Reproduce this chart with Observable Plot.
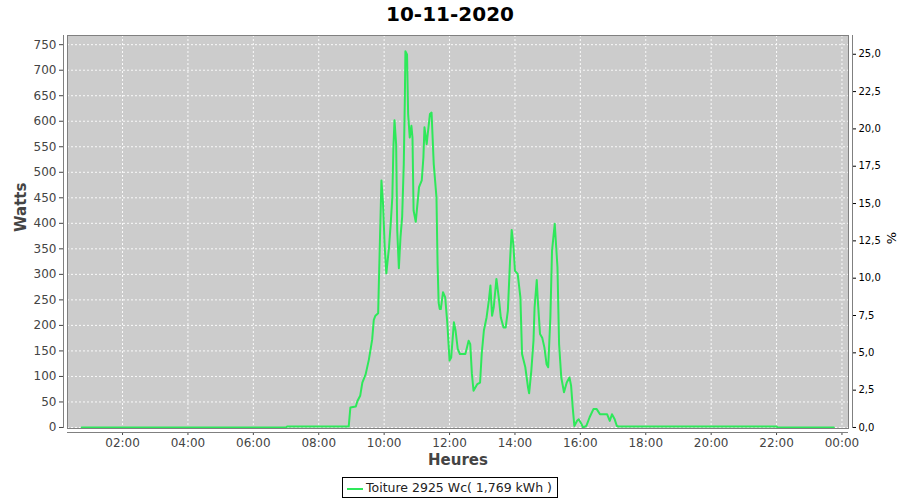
<!DOCTYPE html>
<html><head><meta charset="utf-8">
<script src="https://cdn.jsdelivr.net/npm/d3@7"></script>
<script src="https://cdn.jsdelivr.net/npm/@observablehq/plot@0.6"></script>
<style>
body{margin:0;background:#fff;font-family:"DejaVu Sans",sans-serif;}
#title{height:28px;line-height:28px;text-align:center;font-weight:bold;font-size:20px;color:#000;}
#legend{text-align:center;margin-top:7px;height:22px;}
#legend .box{display:inline-block;border:1px solid #000;height:19px;line-height:19px;padding:0 5px 0 3px;font-size:12.5px;color:#222;}
#legend svg{vertical-align:middle;margin-right:2px;}
</style></head><body>
<div id="title"></div>
<div id="chart"></div>
<div id="legend"></div>
<script>
const chartTitle = "10-11-2020";
const seriesName = "Toiture 2925 Wc( 1,769 kWh )";
const peakPower = 2925;
const lineColor = "#2ee85a";

const times = ["00:45","07:00","07:02","08:55","08:58","09:08","09:11","09:16","09:20","09:26","09:32","09:38","09:41","09:44","09:49","09:50","09:55","09:58","10:01","10:04","10:09","10:12","10:15","10:17","10:19","10:22","10:24","10:27","10:30","10:33","10:36","10:38","10:39","10:42","10:44","10:47","10:50","10:52","10:54","10:58","11:04","11:09","11:12","11:14","11:18","11:20","11:24","11:27","11:31","11:36","11:38","11:40","11:42","11:44","11:48","11:52","11:56","12:00","12:03","12:08","12:11","12:15","12:19","12:29","12:35","12:38","12:41","12:44","12:51","12:56","12:59","13:03","13:08","13:12","13:15","13:18","13:21","13:26","13:31","13:34","13:39","13:43","13:47","13:51","13:54","13:57","14:00","14:05","14:10","14:13","14:19","14:24","14:26","14:30","14:34","14:36","14:40","14:42","14:46","14:50","14:54","14:58","15:01","15:05","15:08","15:13","15:18","15:21","15:25","15:30","15:35","15:40","15:43","15:46","15:49","15:54","15:57","16:02","16:05","16:11","16:17","16:24","16:30","16:36","16:49","16:54","16:58","17:03","17:07","17:10","22:00","22:02","23:45"];
const watts = [0,0,2,2,39,41,52,62,88,104,133,172,211,219,224,270,484,438,354,302,354,399,451,549,602,555,386,312,373,412,516,646,737,731,614,568,591,568,425,403,471,484,529,588,555,575,614,617,516,451,321,244,232,232,265,255,203,131,137,206,190,154,144,144,170,163,105,72,85,88,144,190,216,248,278,219,235,291,248,216,196,196,229,327,387,359,307,301,255,144,118,78,67,111,170,235,289,248,183,176,157,124,118,216,346,399,314,163,98,69,88,98,82,39,3,13,16,7,0,3,20,36,36,26,26,13,26,16,3,2,2,0,0];

const yTicks = d3.range(0, 751, 50);
const pctTicks = [0, 2.5, 5, 7.5, 10, 12.5, 15, 17.5, 20, 22.5, 25];

const toDate = (s, day = 10) => { const [h, m] = s.split(":").map(Number); return new Date(Date.UTC(2020, 10, day, h, m)); };
const data = times.map((s, i) => ({time: toDate(s), w: watts[i]}));
const xDomain = [new Date(Date.UTC(2020,10,10,0,19)), new Date(Date.UTC(2020,10,11,0,12))];
const xTicks = d3.range(1, 13).map(k => new Date(Date.UTC(2020,10,10,2*k,0)));
const yDomain = [-2, 768];

document.getElementById("title").textContent = chartTitle;

const fmtPct = p => d3.format(".1f")(p).replace(".", ",");

const chart = Plot.plot({
  width: 900,
  height: 442,
  marginTop: 7,
  marginBottom: 42,
  marginLeft: 67,
  marginRight: 52,
  style: {fontFamily: "DejaVu Sans, sans-serif", background: "#fff"},
  x: {type: "utc", domain: xDomain},
  y: {domain: yDomain},
  marks: [
    Plot.frame({fill: "#cccccc", stroke: null}),
    Plot.gridX(xTicks, {stroke: "#fff", strokeOpacity: 0.9, strokeDasharray: "2,2"}),
    Plot.gridY(yTicks, {stroke: "#fff", strokeOpacity: 0.9, strokeDasharray: "2,2"}),
    Plot.line(data, {x: "time", y: "w", stroke: lineColor, strokeWidth: 2, clip: true}),
    Plot.frame({stroke: "#808080", strokeWidth: 1}),
    // left axis
    Plot.axisY({anchor: "left", ticks: yTicks, tickSize: 4, dx: -4, tickPadding: 3, fontSize: 12, color: "#444", label: null, tickFormat: d => d}),
    Plot.ruleX([xDomain[0]], {y1: yDomain[0], y2: yDomain[1], dx: -4, stroke: "#808080"}),
    // right axis (percent of peak power)
    Plot.axisY({anchor: "right", ticks: pctTicks.map(p => p * peakPower / 100), tickSize: 3, dx: 4, tickPadding: 3, fontSize: 10, color: "#000", label: null, tickFormat: w => fmtPct(w * 100 / peakPower)}),
    Plot.ruleX([xDomain[1]], {y1: yDomain[0], y2: yDomain[1], dx: 4, stroke: "#808080"}),
    // bottom axis
    Plot.axisX({anchor: "bottom", ticks: xTicks, tickSize: 3, dy: 4, tickPadding: 3, fontSize: 12, color: "#444", label: null, tickFormat: d3.utcFormat("%H:%M")}),
    Plot.ruleY([yDomain[0]], {x1: xDomain[0], x2: xDomain[1], dy: 4, stroke: "#808080"}),
    // axis titles
    Plot.text(["Watts"], {frameAnchor: "left", dx: -46, rotate: -90, fontSize: 15, fontWeight: "bold", fill: "#444"}),
    Plot.text(["%"], {frameAnchor: "right", dx: 43, rotate: -90, fontSize: 13, fill: "#000"}),
    Plot.text(["Heures"], {frameAnchor: "bottom", lineAnchor: "middle", dy: 32, fontSize: 15, fontWeight: "bold", fill: "#444"})
  ]
});
document.getElementById("chart").appendChild(chart);

document.getElementById("legend").innerHTML =
  `<span class="box"><svg width="18" height="10"><line x1="1" y1="5" x2="17" y2="5" stroke="${lineColor}" stroke-width="2"/></svg>${seriesName}</span>`;
</script>
</body></html>
